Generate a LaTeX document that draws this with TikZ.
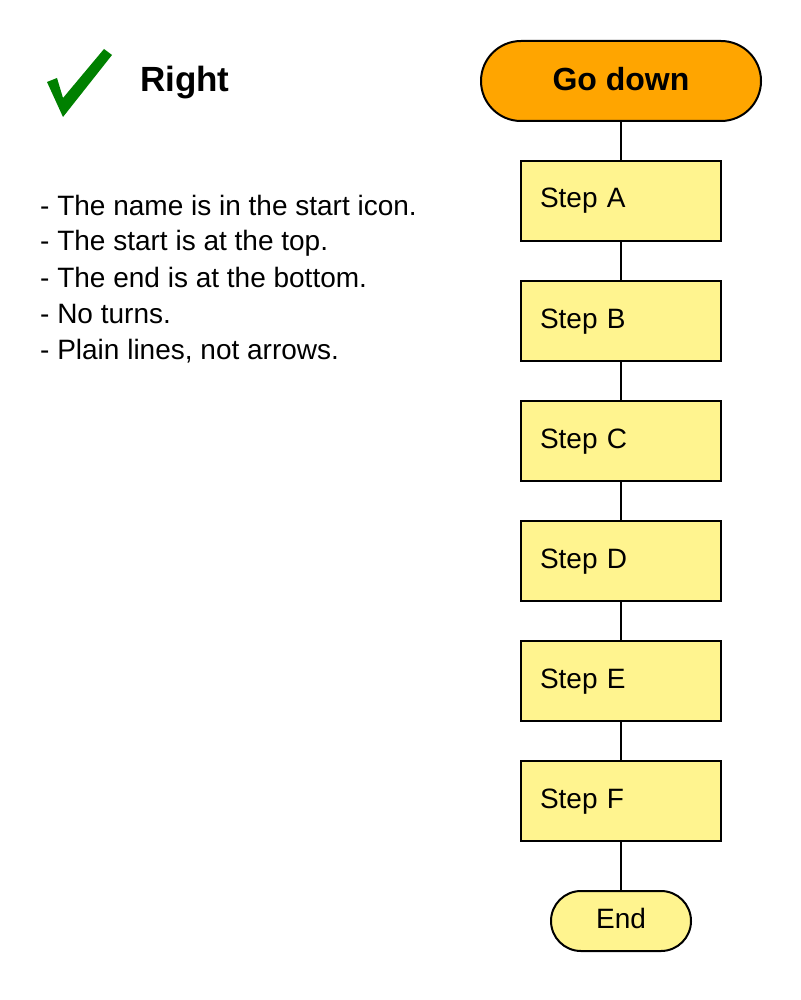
\documentclass[tikz,border=0pt]{standalone}
\usepackage{fontspec}
\setmainfont{Liberation Sans}
\usepackage{xcolor}
\usepackage{tikz}
\usetikzlibrary{positioning}
\definecolor{startorange}{HTML}{FFA500}
\definecolor{stepyellow}{HTML}{FFF48F}
\definecolor{tickgreen}{HTML}{008000}
\tikzset{
	startnode/.style = {draw, line width=2pt, outer sep=0, rounded corners=40pt, fill=startorange, minimum width=280pt, minimum height=80pt, inner sep=0, font=\fontsize{32}{38}\selectfont\bfseries, text height=22pt, text depth=3pt},
	stepnode/.style = {draw, line width=2pt, outer sep=0, fill=stepyellow, minimum width=200pt, minimum height=80pt, inner xsep=19pt, inner ysep=0, text width=162pt, align=left, font=\fontsize{28}{34}\selectfont, text height=20pt, text depth=6pt},
	endnode/.style = {draw, line width=2pt, outer sep=0, rounded corners=30pt, fill=stepyellow, minimum width=140pt, minimum height=60pt, inner sep=0, font=\fontsize{28}{34}\selectfont, text height=20pt, text depth=6pt},
	rulenode/.style = {anchor=base west, inner sep=0, font=\fontsize{28}{36}\selectfont}
}
\begin{document}
\begin{tikzpicture}[x=1pt, y=-1pt]
	\useasboundingbox (0,0) rectangle (800,1000);
	
	% tick and heading
	\fill [tickgreen] (47,82) -- (57,78) -- (63,98) -- (104,49) -- (112,55) -- (63,117) -- cycle;
	\node [anchor=base west, inner sep=0, font=\fontsize{35}{40}\selectfont\bfseries] (title) at (140,92) {Right};
	
	% rules
	\node [rulenode] (r1) at (40,215) {- The name is in the start icon.};
	\node [rulenode] (r2) at (40,251) {- The start is at the top.};
	\node [rulenode] (r3) at (40,287) {- The end is at the bottom.};
	\node [rulenode] (r4) at (40,323) {- No turns.};
	\node [rulenode] (r5) at (40,359) {- Plain lines, not arrows.};
	
	% chart
	\node [startnode] (0) at (621,81) {Go down};
	\node [stepnode, below=40pt of 0] (1) {Step A};
	\node [stepnode, below=40pt of 1] (2) {Step B};
	\node [stepnode, below=40pt of 2] (3) {Step C};
	\node [stepnode, below=40pt of 3] (4) {Step D};
	\node [stepnode, below=40pt of 4] (5) {Step E};
	\node [stepnode, below=40pt of 5] (6) {Step F};
	\node [endnode, below=50pt of 6] (7) {End};
	\draw [line width=2pt] (0) -- (1);
	\draw [line width=2pt] (1) -- (2);
	\draw [line width=2pt] (2) -- (3);
	\draw [line width=2pt] (3) -- (4);
	\draw [line width=2pt] (4) -- (5);
	\draw [line width=2pt] (5) -- (6);
	\draw [line width=2pt] (6) -- (7);
\end{tikzpicture}
\end{document}
